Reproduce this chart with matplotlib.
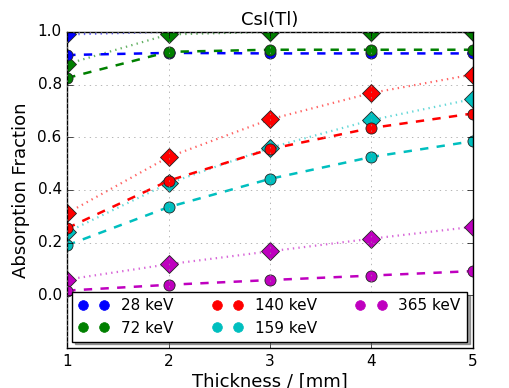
import matplotlib
matplotlib.use("Agg")
import matplotlib.pyplot as plt
from matplotlib.lines import Line2D

plt.style.use("classic")

thickness = [1, 2, 3, 4, 5]
energies = ["28 keV", "72 keV", "140 keV", "159 keV", "365 keV"]
colors = ["b", "g", "r", "c", "m"]

# dotted series (diamonds)
dotted_28 = [0.99, 1.0, 1.0, 1.0, 1.0]
dotted_72 = [0.878, 0.99, 1.0, 1.0, 1.0]
dotted_140 = [0.312, 0.525, 0.668, 0.768, 0.838]
dotted_159 = [0.24, 0.425, 0.56, 0.665, 0.745]
dotted_365 = [0.06, 0.118, 0.167, 0.215, 0.26]

# dashed series (circles)
dashed_28 = [0.912, 0.92, 0.918, 0.918, 0.918]
dashed_72 = [0.825, 0.924, 0.932, 0.932, 0.932]
dashed_140 = [0.255, 0.435, 0.555, 0.635, 0.69]
dashed_159 = [0.19, 0.335, 0.442, 0.525, 0.585]
dashed_365 = [0.018, 0.04, 0.058, 0.075, 0.092]

dotted = [dotted_28, dotted_72, dotted_140, dotted_159, dotted_365]
dashed = [dashed_28, dashed_72, dashed_140, dashed_159, dashed_365]

yticks = [0.0, 0.2, 0.4, 0.6, 0.8, 1.0]

fig = plt.figure(figsize=(5.09, 3.88), dpi=100)
fig.patch.set_facecolor("white")
ax = fig.add_axes([0.132, 0.103, 0.797, 0.815])

for c, d in zip(colors, dotted):
    ax.plot(thickness, d, linestyle=":", color=c, lw=1.6, alpha=0.6)
    ax.plot(thickness, d, linestyle="none", marker="D", color=c, ms=9, mec="#222222", mew=0.6)
for c, d in zip(colors, dashed):
    ax.plot(thickness, d, linestyle="--", color=c, lw=1.8)
    ax.plot(thickness, d, linestyle="none", marker="o", color=c, ms=8, mec="#222222", mew=0.6)

ax.set_xlim(1, 5)
ax.set_ylim(-0.2, 1.0)
ax.set_yticks(yticks)
ax.set_xticks(thickness)
ax.grid(True, color="#999999", linestyle=":")
ax.tick_params(labelsize=11)
ax.set_xlabel("Thickness / [mm]", fontsize=13, labelpad=3)
ax.set_ylabel("Absorption Fraction", fontsize=13)
ax.set_title("CsI(Tl)", fontsize=13)

handles = [Line2D([], [], linestyle="none", marker="o", color=c, mec=c, ms=7) for c in colors]
leg = ax.legend(handles, energies, loc="lower left", ncol=3, numpoints=2, mode="expand",
                bbox_to_anchor=(0.012, 0.02, 0.973, 0.14), fontsize=11, shadow=True,
                handlelength=2.0, borderaxespad=0.0, labelspacing=0.5, fancybox=False,
                columnspacing=0.5)
leg.get_frame().set_edgecolor("black")

fig.savefig("out.png", dpi=100)
